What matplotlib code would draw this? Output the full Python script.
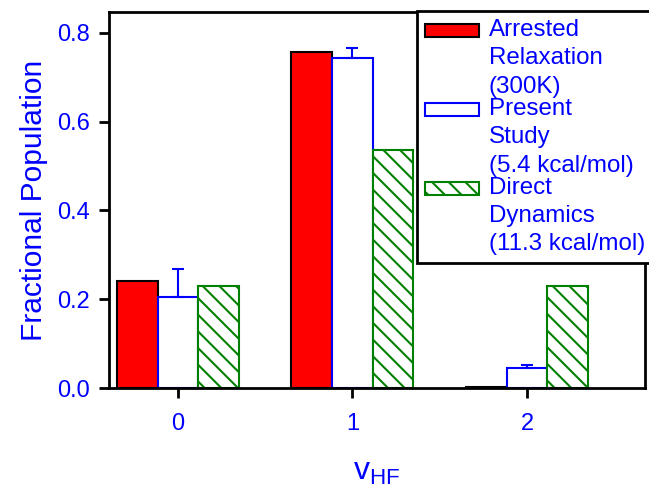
import matplotlib.pyplot as plt
import numpy as np
from matplotlib.legend_handler import HandlerPatch
from matplotlib.patches import Rectangle

plt.rcParams['font.family'] = ['Liberation Sans', 'DejaVu Sans']
plt.rcParams['mathtext.default'] = 'regular'
plt.rcParams['hatch.linewidth'] = 1.5

levels = [0, 1, 2]
arrested = [0.240, 0.758, 0.003]
present = [0.206, 0.744, 0.046]
present_err = [0.062, 0.022, 0.005]
direct = [0.230, 0.537, 0.230]
series_labels = ["Arrested\nRelaxation\n(300K)",
                 "Present\nStudy\n(5.4 kcal/mol)",
                 "Direct\nDynamics\n(11.3 kcal/mol)"]

blue = '#0000ff'
green = '#008000'
LEG_FS = 17.4
LINESP = 1.38
KEY_SHIFT = 19.7  # points: one text line


def top_patch(legend, orig_handle, xdescent, ydescent, width, height, fontsize):
    # put the legend key next to the first line of a 3-line label
    return Rectangle((-xdescent, -ydescent + KEY_SHIFT), width, height)


fig = plt.figure(figsize=(6.49, 4.86), dpi=100)
ax = fig.add_axes([109 / 649, 98 / 486, 536 / 649, 376 / 486])

x = np.array(levels, dtype=float)
w = 0.233
b1 = ax.bar(x - w, arrested, w, color='red', edgecolor='black', linewidth=1.5)
b2 = ax.bar(x, present, w, color='white', edgecolor=blue, linewidth=1.5)
ax.errorbar(x, present, yerr=[np.zeros(3), present_err], fmt='none',
            ecolor=blue, elinewidth=1.5, capsize=4.5, capthick=1.5)
b3 = ax.bar(x + w, direct, w, color='white', edgecolor=green, hatch='\\\\',
            linewidth=1.5)

ax.set_xlim(-0.395, 2.676)
ax.set_ylim(0, 0.847)
ax.set_xticks(levels)
ax.set_yticks([0.0, 0.2, 0.4, 0.6, 0.8])
ax.set_yticklabels(['0.0', '0.2', '0.4', '0.6', '0.8'])
ax.tick_params(direction='out', length=7, width=2, labelsize=17,
               labelcolor=blue, color='black')
ax.tick_params(axis='x', pad=11)
ax.tick_params(axis='y', pad=7)
for s in ax.spines.values():
    s.set_linewidth(2)

ax.set_ylabel('Fractional Population', fontsize=21.5, color=blue, labelpad=6)
ax.set_xlabel('$v_{HF}$', fontsize=23, color=blue, labelpad=16)

leg = ax.legend([b1[0], b2[0], b3[0]], series_labels,
                loc='upper left', bbox_to_anchor=(417 / 649, 1 - 11 / 486),
                bbox_transform=fig.transFigure, fontsize=LEG_FS, frameon=True,
                fancybox=False, edgecolor='black', framealpha=1, borderpad=0.32,
                handlelength=2.25, handleheight=0.45, handletextpad=0.4,
                labelspacing=0.0, borderaxespad=0,
                handler_map={Rectangle: HandlerPatch(patch_func=top_patch)})
leg.get_frame().set_linewidth(2)
for t in leg.get_texts():
    t.set_color(blue)
    t.set_linespacing(LINESP)

fig.savefig('out.png', dpi=100)
